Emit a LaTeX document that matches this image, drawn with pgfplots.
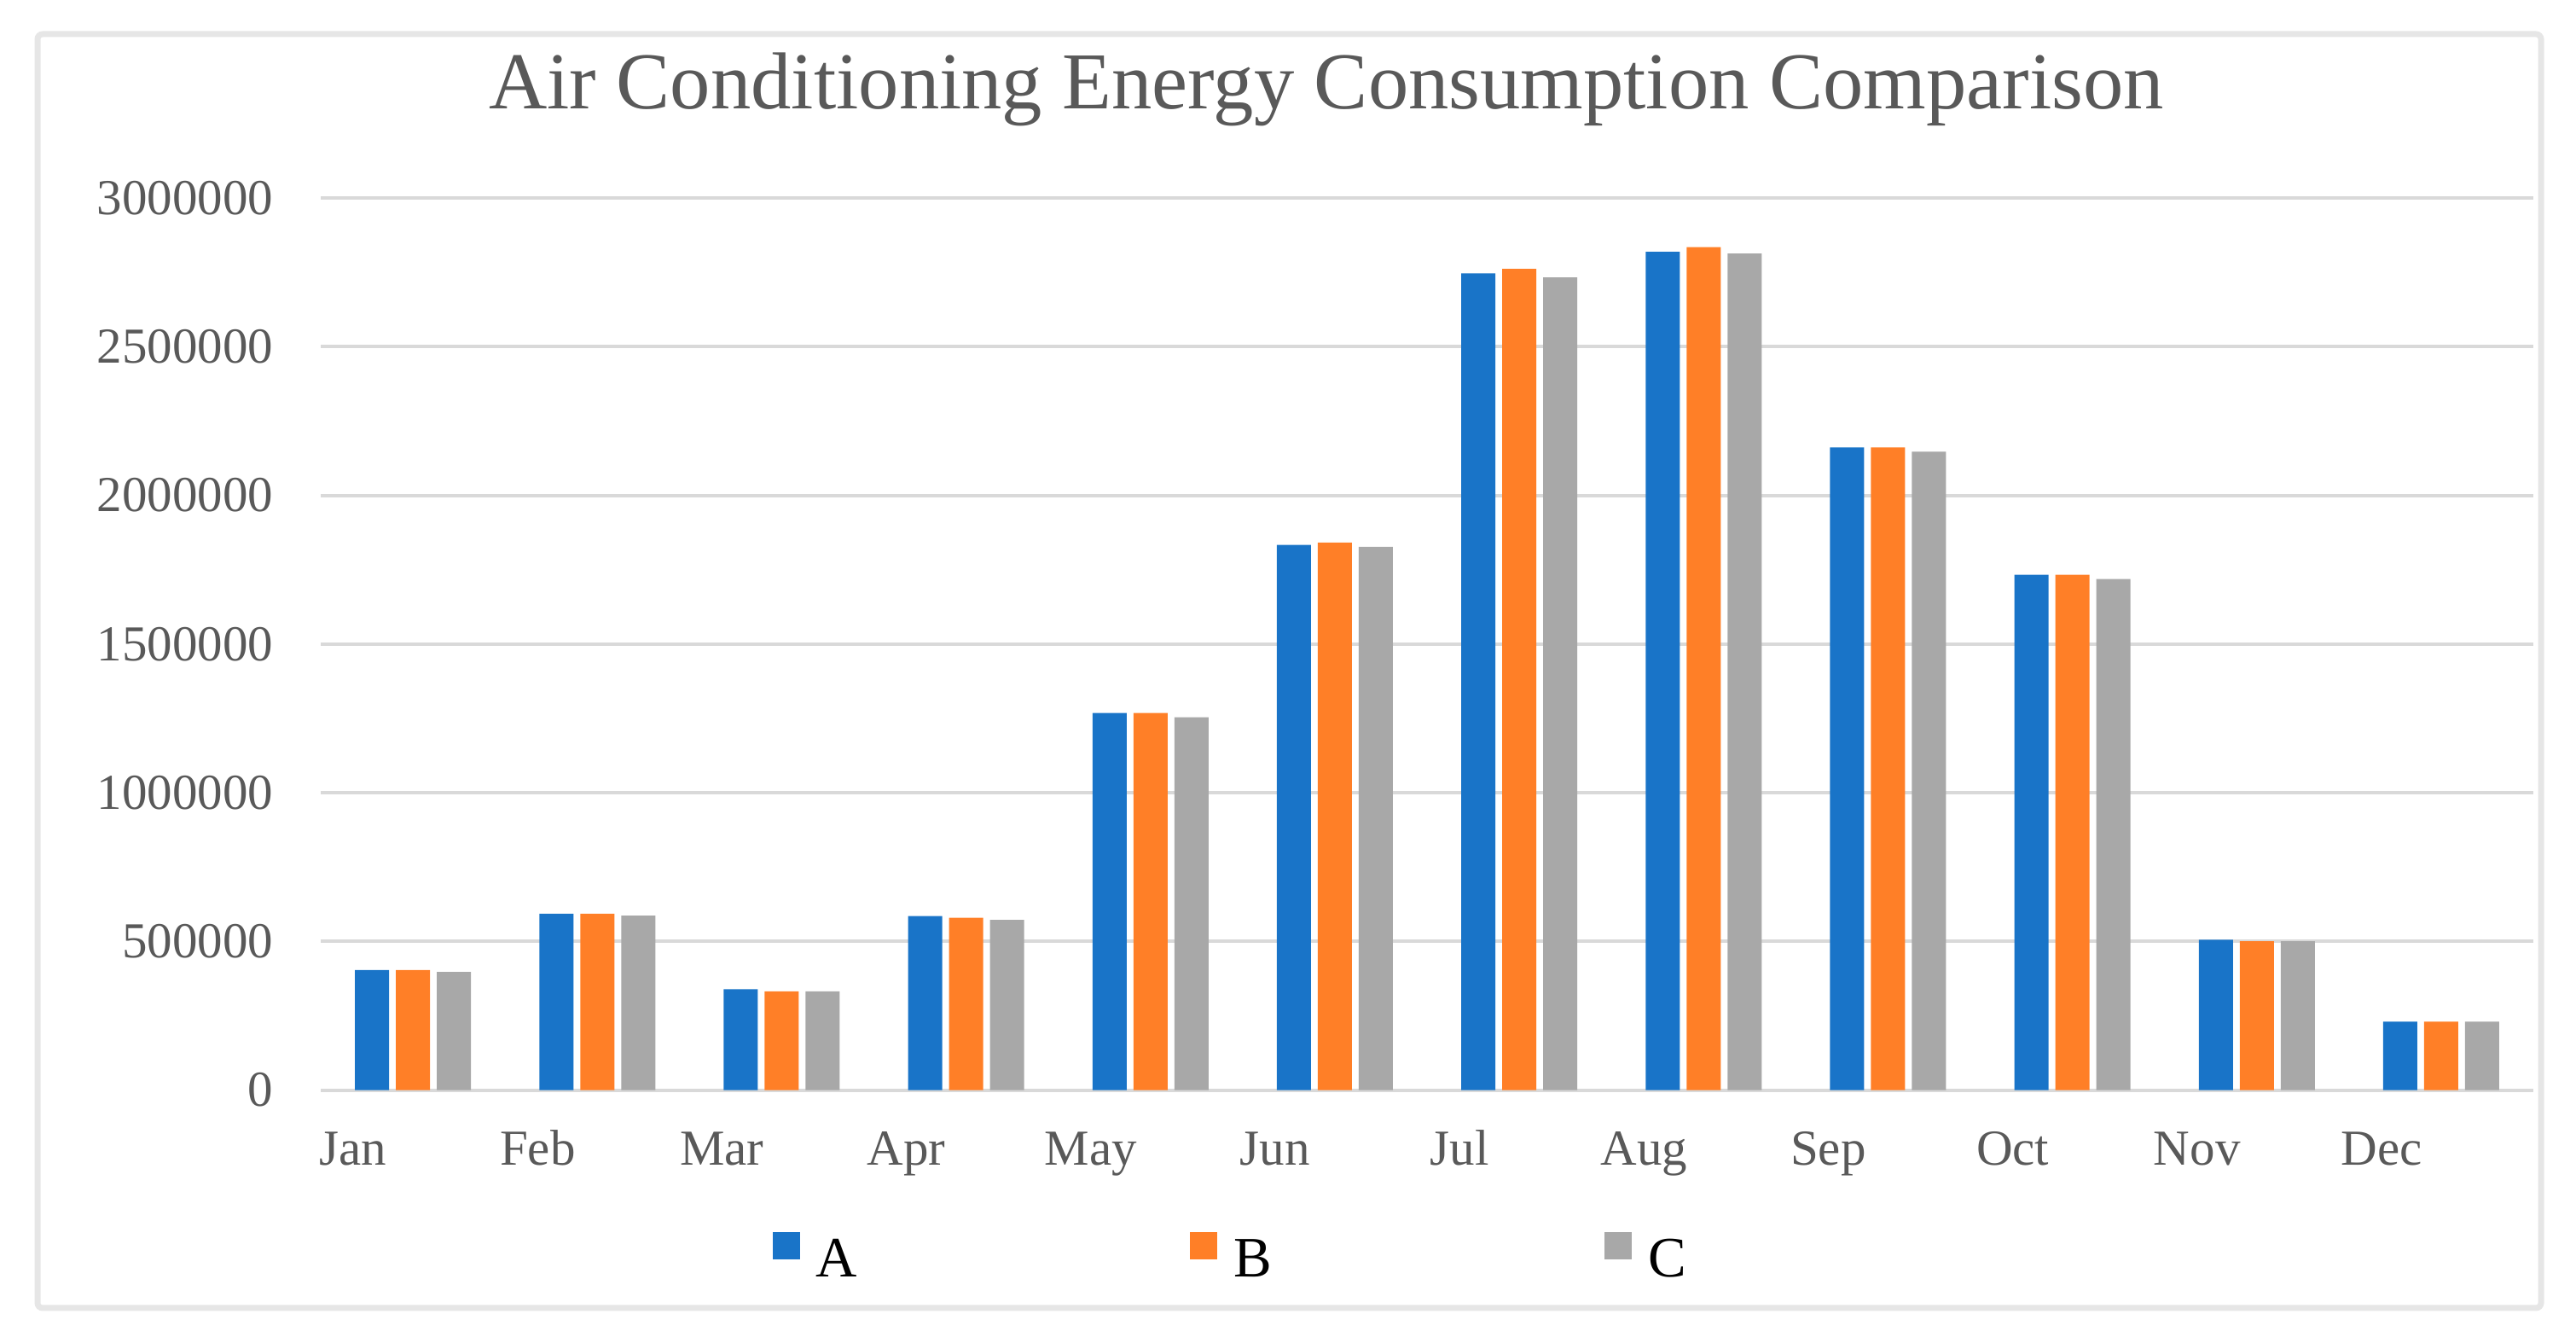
\documentclass[border=0pt]{standalone}
\usepackage{pgfplots}
\pgfplotsset{compat=1.18}
\usepackage{fontspec}
\setmainfont{Liberation Serif}

\definecolor{cA}{RGB}{25,116,200}
\definecolor{cB}{RGB}{255,127,39}
\definecolor{cC}{RGB}{168,168,168}
\definecolor{gridc}{RGB}{217,217,217}
\definecolor{framec}{RGB}{230,230,230}
\definecolor{textc}{RGB}{89,89,89}

\begin{document}
\begin{tikzpicture}
    \useasboundingbox (0,0) rectangle (755pt,393.5pt);
    \draw[framec, line width=1.75pt, rounded corners=1.5pt] (11pt,10.25pt) rectangle (744.75pt,383.5pt);
    \node[anchor=base, text=textc, inner sep=0pt, font=\fontsize{23.65}{28}\selectfont]
        at (388.75pt,361.5pt) {Air Conditioning Energy Consumption Comparison};

    \begin{axis}[
            at={(94pt,74.1pt)}, anchor=south west,
            scale only axis,
            width=648.5pt, height=261.35pt,
            ybar=2pt, bar width=10pt,
            xmin=-0.5, xmax=11.5,
            ymin=0, ymax=3000000,
            xtick={0,...,11},
            xticklabels={Jan,Feb,Mar,Apr,May,Jun,Jul,Aug,Sep,Oct,Nov,Dec},
            ytick={0,500000,1000000,1500000,2000000,2500000,3000000},
            yticklabels={0,500000,1000000,1500000,2000000,2500000,3000000},
            scaled y ticks=false,
            axis line style={draw=none},
            major tick length=0pt,
            ymajorgrids=true,
            grid style={gridc, line width=1pt},
            yticklabel style={text=textc, font=\fontsize{14.75}{17}\selectfont,
                    anchor=east, inner sep=0pt, xshift=-13.75pt},
            xticklabel style={text=textc, font=\fontsize{14.75}{17}\selectfont,
                    anchor=base, inner sep=0pt, yshift=-22pt, xshift=-17.5pt},
            legend columns=3,
            legend style={
                    draw=none, fill=none, inner sep=0pt,
                    at={(0.204,-0.191)}, anchor=west,
                    font=\fontsize{16.75}{20}\selectfont, text=black,
                    /tikz/every even column/.append style={column sep=95.5pt}
                },
            legend image code/.code={%
                    \fill[#1] (0pt,0.5pt) rectangle (8pt,8.5pt);
                    \path (10.75pt,0.5pt);},
        ]

        % A
        \addplot[fill=cA, draw=none] coordinates {
                (0,404000) (1,593100) (2,339300) (3,585700) (4,1268500) (5,1833800)
                (6,2747000) (7,2819500) (8,2161600) (9,1733500) (10,505400) (11,230400)
            };

        % B
        \addplot[fill=cB, draw=none] coordinates {
                (0,404000) (1,593100) (2,332400) (3,579900) (4,1268500) (5,1841500)
                (6,2762100) (7,2835000) (8,2161600) (9,1733500) (10,500600) (11,230400)
            };

        % C
        \addplot[fill=cC, draw=none] coordinates {
                (0,397400) (1,586500) (2,332400) (3,572200) (4,1254100) (5,1827200)
                (6,2733500) (7,2813700) (8,2147300) (9,1719200) (10,500600) (11,230400)
            };

        \legend{A,B,C}
    \end{axis}
\end{tikzpicture}
\end{document}
